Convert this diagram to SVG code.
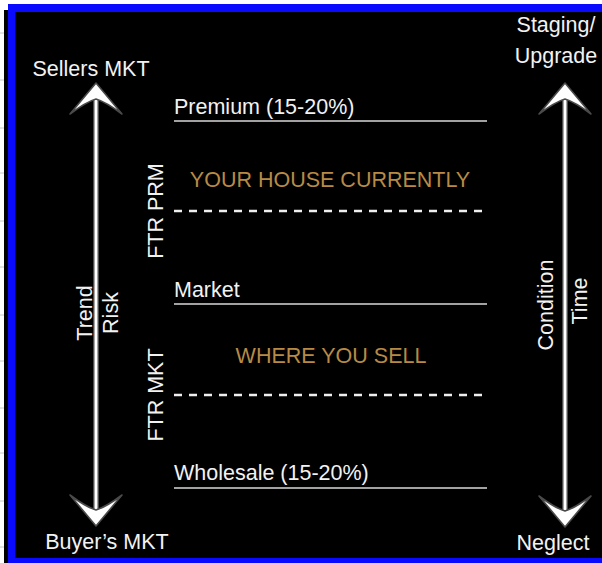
<svg xmlns="http://www.w3.org/2000/svg" width="602" height="563" viewBox="0 0 602 563">
  <defs>
    <style>
      .lbl { font-family: "Liberation Sans", Arial, Helvetica, sans-serif; font-size: 21.5px; fill: #f2f2f2; }
      .gold { font-family: "Liberation Sans", Arial, Helvetica, sans-serif; font-size: 21.5px; fill: #b88a45; }
      .level { stroke: #d9d9d9; stroke-width: 1.6; fill: none; }
      .dash { stroke: #eeeeee; stroke-width: 2.6; stroke-dasharray: 8 7; fill: none; }
      .shaft-edge { stroke: #4a4a4a; stroke-width: 6; fill: none; }
      .shaft { stroke: #ffffff; stroke-width: 3; fill: none; }
      .head { fill: #ffffff; stroke: #4a4a4a; stroke-width: 1.6; stroke-linejoin: round; }
      .tick { stroke: #c8c8c8; stroke-width: 1; }
    </style>
    <!-- barbed arrowhead pointing up, tip at 0,0 -->
    <path id="head-up" d="M0,0 L26,31 Q10,19 0,16 Q-10,19 -26,31 Z"/>
  </defs>

  <!-- page strip with row ticks on the far left -->
  <rect x="0" y="0" width="602" height="563" fill="#ffffff"/>
  <g id="ticks">
    <line class="tick" x1="0" y1="33" x2="4" y2="33"/>
    <line class="tick" x1="0" y1="80" x2="4" y2="80"/>
    <line class="tick" x1="0" y1="128" x2="4" y2="128"/>
    <line class="tick" x1="0" y1="173" x2="4" y2="173"/>
    <line class="tick" x1="0" y1="221" x2="4" y2="221"/>
    <line class="tick" x1="0" y1="267" x2="4" y2="267"/>
    <line class="tick" x1="0" y1="315" x2="4" y2="315"/>
    <line class="tick" x1="0" y1="361" x2="4" y2="361"/>
    <line class="tick" x1="0" y1="408" x2="4" y2="408"/>
    <line class="tick" x1="0" y1="453" x2="4" y2="453"/>
    <line class="tick" x1="0" y1="501" x2="4" y2="501"/>
    <line class="tick" x1="0" y1="547" x2="4" y2="547"/>
  </g>

  <!-- slide area with blue frame -->
  <rect x="4" y="10" width="598" height="553" fill="#000000"/>
  <path d="M8,4 H602 V12 H15.5 V558 H602 V563 H8 Z" fill="#0a0aff"/>

  <!-- price levels -->
  <g id="connectors">
    <line class="level" x1="174" y1="121" x2="487" y2="121"/>
    <line class="dash" x1="174" y1="211" x2="487" y2="211"/>
    <line class="level" x1="174" y1="304" x2="487" y2="304"/>
    <line class="dash" x1="174" y1="395" x2="487" y2="395"/>
    <line class="level" x1="174" y1="488" x2="487" y2="488"/>

    <!-- left axis: market trend -->
    <g id="axis-left">
      <line class="shaft-edge" x1="96" y1="96" x2="96" y2="512"/>
      <line class="shaft" x1="96" y1="96" x2="96" y2="512"/>
      <use href="#head-up" class="head" transform="translate(96,83)"/>
      <use href="#head-up" class="head" transform="translate(96,526) scale(1,-1)"/>
    </g>
    <!-- right axis: condition -->
    <g id="axis-right">
      <line class="shaft-edge" x1="565" y1="96" x2="565" y2="512"/>
      <line class="shaft" x1="565" y1="96" x2="565" y2="512"/>
      <use href="#head-up" class="head" transform="translate(565,83)"/>
      <use href="#head-up" class="head" transform="translate(565,527) scale(1,-1)"/>
    </g>
  </g>

  <g id="sellers-mkt"><text class="lbl" x="91" y="76" text-anchor="middle">Sellers MKT</text></g>
  <g id="buyers-mkt"><text class="lbl" x="107" y="549" text-anchor="middle">Buyer’s MKT</text></g>
  <g id="staging">
    <text class="lbl" x="556" y="32" text-anchor="middle">Staging/</text>
    <text class="lbl" x="556" y="63" text-anchor="middle">Upgrade</text>
  </g>
  <g id="neglect"><text class="lbl" x="553" y="550" text-anchor="middle">Neglect</text></g>

  <g id="premium"><text class="lbl" x="174" y="114">Premium (15-20%)</text></g>
  <g id="market"><text class="lbl" x="174" y="297">Market</text></g>
  <g id="wholesale"><text class="lbl" x="174" y="480">Wholesale (15-20%)</text></g>

  <g id="your-house"><text class="gold" x="330" y="187" text-anchor="middle">YOUR HOUSE CURRENTLY</text></g>
  <g id="where-you-sell"><text class="gold" x="331" y="363" text-anchor="middle">WHERE YOU SELL</text></g>

  <g id="ftr-prm"><text class="lbl" transform="translate(163,211) rotate(-90)" text-anchor="middle">FTR PRM</text></g>
  <g id="ftr-mkt"><text class="lbl" transform="translate(163,395) rotate(-90)" text-anchor="middle">FTR MKT</text></g>

  <g id="trend"><text class="lbl" transform="translate(92,313) rotate(-90)" text-anchor="middle">Trend</text></g>
  <g id="risk"><text class="lbl" transform="translate(118,313) rotate(-90)" text-anchor="middle">Risk</text></g>
  <g id="condition"><text class="lbl" transform="translate(553,305) rotate(-90)" text-anchor="middle">Condition</text></g>
  <g id="time"><text class="lbl" transform="translate(587,301) rotate(-90)" text-anchor="middle">Time</text></g>
</svg>
